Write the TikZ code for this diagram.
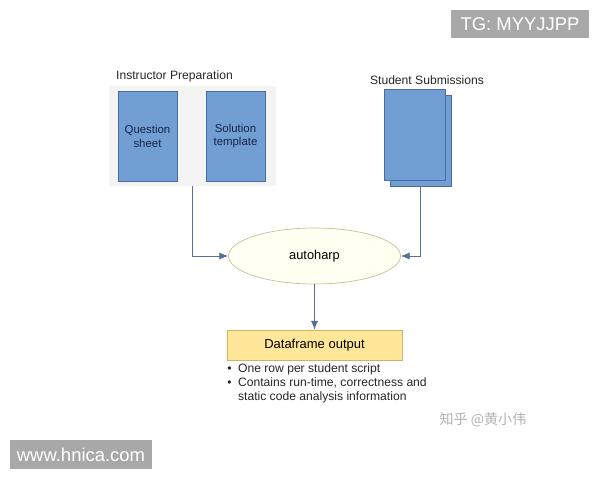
\documentclass[tikz,border=0pt]{standalone}
\usepackage{fontspec}
\setmainfont{Liberation Sans}
\newfontfamily\cjk{Noto Sans CJK SC}
\usetikzlibrary{shapes.geometric,arrows.meta}
\definecolor{sheetblue}{RGB}{114,159,211}
\definecolor{sheetline}{RGB}{72,108,160}
\definecolor{sheettext}{RGB}{22,36,72}
\definecolor{panelgrey}{RGB}{244,244,244}
\definecolor{harpfill}{RGB}{255,255,242}
\definecolor{harpline}{RGB}{200,190,150}
\definecolor{frameyellow}{RGB}{255,230,153}
\definecolor{frameline}{RGB}{205,180,100}
\definecolor{flowline}{RGB}{84,112,150}
\definecolor{wmgrey}{RGB}{168,168,168}
\begin{document}
\begin{tikzpicture}[x=0.02cm,y=-0.02cm,
    sheet/.style={draw=sheetline,fill=sheetblue,text=sheettext,minimum width=1.18cm,minimum height=1.8cm,
        inner sep=0pt,align=center,font=\fontsize{6.5}{7.9}\selectfont},
    flow/.style={draw=flowline,-{Latex[length=5pt,width=4pt]}},
    label/.style={text=black!85,font=\fontsize{6.9}{8}\selectfont},
    mark box/.style={fill=wmgrey,text=white,inner sep=0pt,font=\fontsize{10.5}{12}\selectfont}]
    \useasboundingbox (0,0) rectangle (600,480);
    % instructor side
    \node[fill=panelgrey,minimum width=3.34cm,minimum height=2cm,inner sep=0pt] (prep) at (192.5,136) {};
    \node[label,anchor=west] (preptitle) at (110,76) {Instructor Preparation};
    \node[sheet] (question) at (147.5,136) {Question\\sheet};
    \node[sheet] (solution) at (235.5,136) {Solution\\template};
    % student side
    \node[label] (subtitle) at (427,80) {Student Submissions};
    \node[sheet,minimum width=1.22cm,minimum height=1.82cm] (subback) at (420.5,140.5) {};
    \node[sheet,minimum width=1.22cm,minimum height=1.82cm] (subfront) at (414.5,134.5) {};
    % middle
    \node[ellipse,draw=harpline,fill=harpfill,minimum width=3.44cm,minimum height=1.12cm,
        font=\fontsize{7.3}{8}\selectfont] (harp) at (314.5,256) {autoharp};
    \node[draw=frameline,fill=frameyellow,minimum width=3.5cm,minimum height=0.6cm,
        font=\fontsize{7.4}{8}\selectfont] (frame) at (314.5,345) {Dataframe output};
    \node[anchor=north west,inner sep=0pt,text=black!85,font=\fontsize{6.9}{8}\selectfont] (notes) at (227,362.5)
        {\begin{tabular}{@{}l@{\hspace{0.13cm}}l@{}}
        \textbullet & One row per student script\\
        \textbullet & Contains run-time, correctness and\\
        & static code analysis information
        \end{tabular}};
    \draw[flow] (prep.south) |- (harp.west);
    \draw[flow] (subback.south) |- (harp.east);
    \draw[flow] (harp.south) -- (frame.north);
    % marks
    \node[mark box,minimum width=2.76cm,minimum height=0.56cm] (tg) at (520,24) {TG: MYYJJPP};
    \node[mark box,minimum width=2.84cm,minimum height=0.58cm] (site) at (81,454.5) {www.hnica.com};
    \node[text=black!30,font=\cjk\fontsize{8}{9}\selectfont] (zhihu) at (483,420) {知乎 @黄小伟};
\end{tikzpicture}
\end{document}
